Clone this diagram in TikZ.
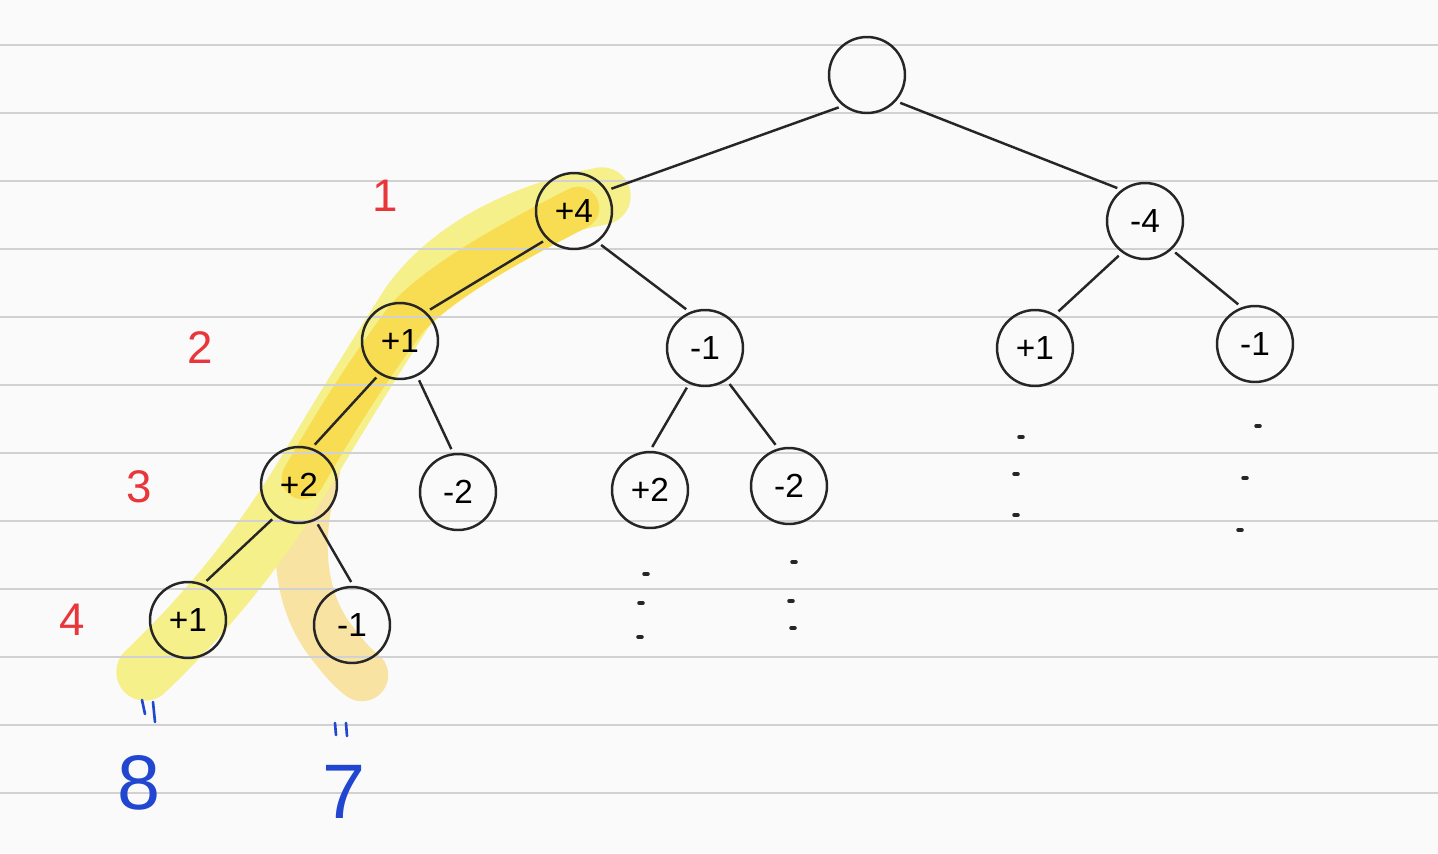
\documentclass[tikz,border=0pt]{standalone}
\usepackage{fontspec}
\setmainfont{Liberation Sans}
\begin{document}
\begin{tikzpicture}[x=0.02cm,y=-0.02cm,
  nd/.style={circle,draw=black!85,line width=1.4pt,minimum size=1.52cm,inner sep=0pt,font=\fontsize{19}{19}\selectfont},
  ed/.style={draw=black!85,line width=1.4pt,shorten <=2.5pt,shorten >=2.5pt},
  rule/.style={draw=black!18,line width=1.1pt},
  hl/.style={line width=1.15cm,line cap=round,line join=round},
  dotm/.style={draw=black!85,line width=2pt,line cap=round},
  lvl/.style={text=lvlred,font=\fontsize{26}{26}\selectfont},
  res/.style={text=resblue,font=\fontsize{44}{44}\selectfont},
  eqm/.style={draw=resblue,line width=1.5pt,line cap=round}]
\definecolor{hlA}{HTML}{F6F08A}
\definecolor{hlB}{HTML}{F8DC52}
\definecolor{hlC}{HTML}{F9E3A2}
\definecolor{lvlred}{HTML}{E8363A}
\definecolor{resblue}{HTML}{2146D0}
\fill[white!98!black] (0,0) rectangle (1438,853);
\useasboundingbox (0,0) rectangle (1438,853);
% highlights
\draw[hl,hlC,line width=1.05cm] (314,470) .. controls (292,540) and (300,600) .. (330,640) .. controls (345,660) and (355,670) .. (362,675);
\draw[hl,hlA] (602,196) .. controls (520,212) and (450,248) .. (410,303) .. controls (362,378) and (332,428) .. (302,478) .. controls (262,543) and (212,608) .. (145,672);
\draw[hl,hlB,line width=0.85cm] (578,208) .. controls (520,238) and (444,278) .. (407,318) .. controls (362,378) and (332,428) .. (303,478);
% ruled lines
\foreach \yy in {45,113,181,249,317,385,453,521,589,657,725,793}
  \draw[rule] (0,\yy) -- (1438,\yy);
% nodes
\node[nd] (r) at (867,75) {};
\node[nd] (a) at (574,211) {+4};
\node[nd] (b) at (1145,221) {-4};
\node[nd] (c) at (400,341) {+1};
\node[nd] (d) at (705,348) {-1};
\node[nd] (e) at (1035,348) {+1};
\node[nd] (f) at (1255,344) {-1};
\node[nd] (g) at (299,485) {+2};
\node[nd] (h) at (458,492) {-2};
\node[nd] (i) at (650,490) {+2};
\node[nd] (j) at (789,486) {-2};
\node[nd] (k) at (188,620) {+1};
\node[nd] (l) at (352,625) {-1};
% edges
\draw[ed] (r.232) -- (a.32);
\draw[ed] (r.318) -- (b.127);
\draw[ed] (a.226) -- (c.48);
\draw[ed] (a.307) -- (d.113);
\draw[ed] (b.234) -- (e.59);
\draw[ed] (b.313) -- (f.110);
\draw[ed] (c.238) -- (g.71);
\draw[ed] (c.296) -- (h.97);
\draw[ed] (d.246) -- (i.90);
\draw[ed] (d.304) -- (j.106);
\draw[ed] (g.233) -- (k.67);
\draw[ed] (g.295) -- (l.88);
% continuation dots
\foreach \px/\py in {646/574,641/603,640/637,794/562,791/601,793/628,1021/437,1016/474,1016/515,1258/426,1245/478,1240/530}
  \draw[dotm] (\px-2,\py) -- (\px+2,\py);
% level labels
\node[lvl] (l1) at (385,196) {1};
\node[lvl] (l2) at (200,348) {2};
\node[lvl] (l3) at (139,487) {3};
\node[lvl] (l4) at (72,620) {4};
% results
\draw[eqm] (142,700) -- (145,714);
\draw[eqm] (153,702) -- (155,722);
\draw[eqm] (335,723) -- (336,735);
\draw[eqm] (346,723) -- (347,736);
\node[res] (n8) at (139,783) {8};
\node[res] (n7) at (344,792) {7};
\end{tikzpicture}
\end{document}
